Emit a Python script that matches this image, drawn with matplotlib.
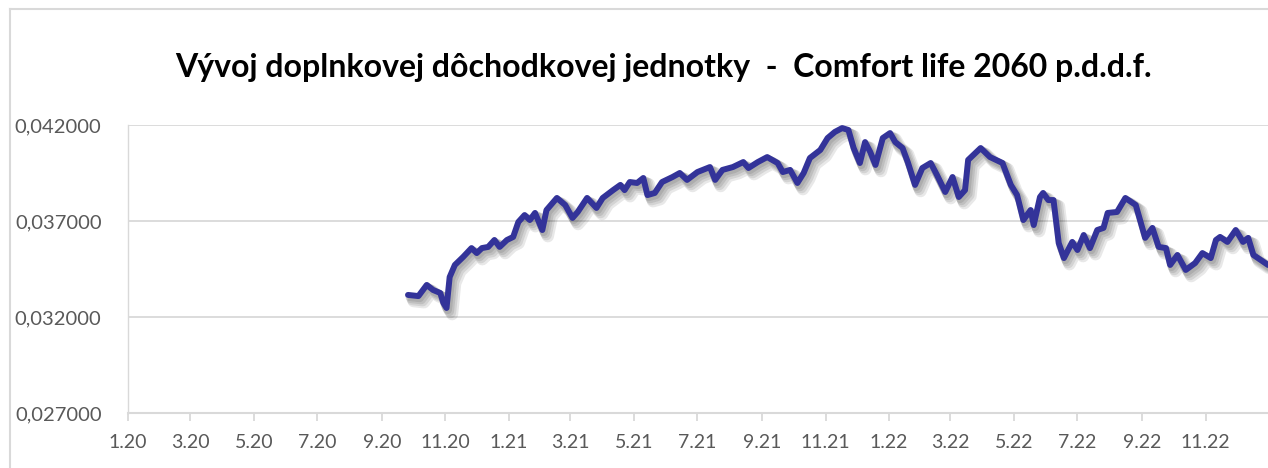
import numpy as np
import pandas as pd
import matplotlib
matplotlib.use("Agg")
import matplotlib.pyplot as plt
import matplotlib.dates as mdates
import matplotlib.patheffects as pe
from matplotlib.lines import Line2D
from matplotlib.ticker import FuncFormatter

plt.rcParams['font.family'] = ['Lato', 'DejaVu Sans']

title = "Vývoj doplnkovej dôchodkovej jednotky  -  Comfort life 2060 p.d.d.f."

dates = [
    "2020-09-26", "2020-10-06", "2020-10-14", "2020-10-20", "2020-10-27", "2020-10-30",
    "2020-11-02", "2020-11-05", "2020-11-10", "2020-11-18", "2020-11-26", "2020-12-01",
    "2020-12-06", "2020-12-12", "2020-12-18", "2020-12-23", "2020-12-30", "2021-01-05",
    "2021-01-10", "2021-01-16", "2021-01-21", "2021-01-26", "2021-02-02", "2021-02-06",
    "2021-02-16", "2021-02-24", "2021-03-03", "2021-03-08", "2021-03-17", "2021-03-26",
    "2021-04-01", "2021-04-11", "2021-04-18", "2021-04-22", "2021-04-27", "2021-05-04",
    "2021-05-10", "2021-05-14", "2021-05-21", "2021-05-28", "2021-06-07", "2021-06-14",
    "2021-06-21", "2021-07-01", "2021-07-13", "2021-07-18", "2021-07-25", "2021-08-04",
    "2021-08-14", "2021-08-19", "2021-08-28", "2021-09-06", "2021-09-16", "2021-09-21",
    "2021-09-28", "2021-10-05", "2021-10-11", "2021-10-17", "2021-10-27", "2021-11-03",
    "2021-11-10", "2021-11-17", "2021-11-23", "2021-11-28", "2021-12-04", "2021-12-09",
    "2021-12-14", "2021-12-19", "2021-12-26", "2022-01-02", "2022-01-07", "2022-01-14",
    "2022-01-19", "2022-01-26", "2022-02-02", "2022-02-10", "2022-02-16", "2022-02-24",
    "2022-03-03", "2022-03-09", "2022-03-15", "2022-03-18", "2022-03-30", "2022-04-08",
    "2022-04-20", "2022-04-28", "2022-05-04", "2022-05-10", "2022-05-17", "2022-05-20",
    "2022-05-26", "2022-05-29", "2022-06-03", "2022-06-08", "2022-06-13", "2022-06-18",
    "2022-06-26", "2022-07-01", "2022-07-07", "2022-07-13", "2022-07-20", "2022-07-26",
    "2022-07-30", "2022-08-08", "2022-08-16", "2022-08-26", "2022-09-04", "2022-09-11",
    "2022-09-17", "2022-09-24", "2022-09-28", "2022-10-05", "2022-10-13", "2022-10-22",
    "2022-10-29", "2022-11-06", "2022-11-11", "2022-11-15", "2022-11-22", "2022-11-30",
    "2022-12-07", "2022-12-12", "2022-12-17", "2022-12-24", "2022-12-31",
]
values = [
    0.03315, 0.03309, 0.03367, 0.03341, 0.03325, 0.03273,
    0.03247, 0.03408, 0.03471, 0.03513, 0.03559, 0.03533,
    0.03559, 0.03565, 0.03601, 0.03565, 0.03601, 0.03617,
    0.03695, 0.03731, 0.03705, 0.03742, 0.03653, 0.03757,
    0.03820, 0.03783, 0.03716, 0.03747, 0.03820, 0.03768,
    0.03820, 0.03861, 0.03888, 0.03861, 0.03903, 0.03898,
    0.03924, 0.03835, 0.03846, 0.03903, 0.03929, 0.03950,
    0.03914, 0.03955, 0.03981, 0.03914, 0.03966, 0.03981,
    0.04007, 0.03976, 0.04007, 0.04033, 0.04002, 0.03955,
    0.03966, 0.03898, 0.03950, 0.04028, 0.04070, 0.04132,
    0.04164, 0.04184, 0.04174, 0.04080, 0.04002, 0.04111,
    0.04059, 0.03992, 0.04132, 0.04158, 0.04111, 0.04080,
    0.04007, 0.03888, 0.03976, 0.04002, 0.03940, 0.03851,
    0.03929, 0.03825, 0.03861, 0.04018, 0.04080, 0.04033,
    0.04002, 0.03888, 0.03835, 0.03705, 0.03757, 0.03679,
    0.03825, 0.03846, 0.03809, 0.03809, 0.03585, 0.03507,
    0.03591, 0.03549, 0.03627, 0.03559, 0.03653, 0.03664,
    0.03742, 0.03747, 0.03820, 0.03783, 0.03612, 0.03664,
    0.03565, 0.03559, 0.03471, 0.03523, 0.03445, 0.03481,
    0.03533, 0.03507, 0.03601, 0.03617, 0.03591, 0.03653,
    0.03591, 0.03612, 0.03523, 0.03497, 0.03471,
]
y_ticks = [0.027, 0.032, 0.037, 0.042]

x = pd.to_datetime(dates)
grid_col = "#d9d9d9"
text_col = "#595959"

fig = plt.figure(figsize=(12.68, 4.68), dpi=100)
ax = fig.add_axes([0.1009, 0.1175, 0.8991, 0.6154])

shadow = [pe.SimpleLineShadow(offset=(o, -o - 0.5), shadow_color="black", alpha=0.09,
                              linewidth=4.8 + o) for o in (1.0, 2.0, 3.0, 4.0)]
ax.plot(x, values, color="#333399", linewidth=4.3, solid_capstyle="round",
        solid_joinstyle="round", path_effects=shadow + [pe.Normal()], zorder=3)

ax.set_xlim(pd.Timestamp("2020-01-01"), pd.Timestamp("2022-12-31"))
ax.set_ylim(0.027, 0.042)
ax.set_yticks(y_ticks)
ax.yaxis.set_major_formatter(FuncFormatter(lambda v, p: f"{v:.6f}".replace(".", ",")))
ax.xaxis.set_major_locator(mdates.MonthLocator(bymonth=[1, 3, 5, 7, 9, 11]))
ax.xaxis.set_major_formatter(FuncFormatter(
    lambda v, p: f"{mdates.num2date(v).month}.{mdates.num2date(v).year % 100:02d}"))

ax.grid(axis="y", color=grid_col, linewidth=1.3)
ax.set_axisbelow(True)
for s in ["top", "right"]:
    ax.spines[s].set_visible(False)
ax.spines["bottom"].set_color(grid_col)
ax.spines["bottom"].set_linewidth(1.5)
ax.spines["left"].set_color(grid_col)
ax.spines["left"].set_linewidth(1.0)
ax.tick_params(axis="x", colors=grid_col, labelcolor=text_col, labelsize=14,
               length=6, width=1.3, pad=9)
ax.tick_params(axis="y", length=0, labelcolor=text_col, labelsize=14.5, pad=19)

fig.text(0.523, 0.855, title, ha="center", va="center", fontsize=23,
         fontweight="bold", color="black")

# chart area border
fig.add_artist(Line2D([10 / 1268, 1], [1 - 9 / 468] * 2, color=grid_col, linewidth=1.5,
                      transform=fig.transFigure))
fig.add_artist(Line2D([10 / 1268] * 2, [0, 1 - 9 / 468], color=grid_col, linewidth=1.5,
                      transform=fig.transFigure))

fig.savefig("out.png", dpi=100)
